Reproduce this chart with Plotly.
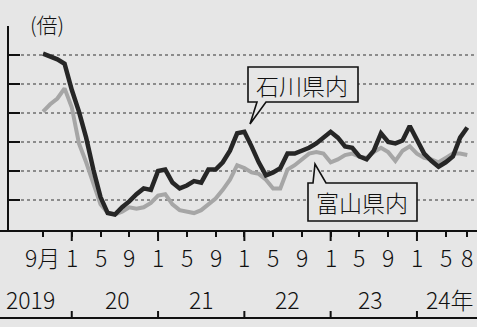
import plotly.graph_objects as go

# ---- data (month index 0 = Sep 2019 ... 59 = Aug 2024) ----
months = list(range(60))
ishikawa = [2.01, 1.99, 1.97, 1.94, 1.76, 1.61, 1.43, 1.21, 1.02, 0.91,
            0.90, 0.95, 0.99, 1.04, 1.08, 1.07, 1.20, 1.21, 1.12, 1.08,
            1.10, 1.13, 1.12, 1.21, 1.21, 1.26, 1.34, 1.46, 1.47, 1.37,
            1.26, 1.17, 1.19, 1.22, 1.32, 1.32, 1.34, 1.36, 1.39, 1.43,
            1.47, 1.43, 1.37, 1.36, 1.30, 1.28, 1.34, 1.46, 1.40, 1.39,
            1.41, 1.51, 1.41, 1.32, 1.27, 1.23, 1.26, 1.30, 1.43, 1.50]
toyama = [1.61, 1.66, 1.70, 1.77, 1.64, 1.39, 1.26, 1.12, 0.97, 0.91,
          0.90, 0.92, 0.95, 0.94, 0.95, 0.98, 1.03, 1.04, 0.97, 0.93,
          0.92, 0.91, 0.93, 0.97, 1.01, 1.07, 1.14, 1.24, 1.22, 1.19,
          1.18, 1.14, 1.08, 1.08, 1.21, 1.24, 1.28, 1.32, 1.33, 1.32,
          1.26, 1.28, 1.31, 1.32, 1.30, 1.29, 1.33, 1.36, 1.33, 1.27,
          1.34, 1.37, 1.32, 1.29, 1.28, 1.26, 1.29, 1.32, 1.32, 1.31]

month_tick_pos = [0, 4, 8, 12, 16, 20, 24, 28, 32, 36, 40, 44, 48, 52, 56, 59]
month_tick_text = ["9月", "1", "5", "9", "1", "5", "9", "1", "5", "9",
                   "1", "5", "9", "1", "5", "8"]
jan_pos = [4, 16, 28, 40, 52]
year_pos = [-1.7, 10.3, 22, 34, 45.6, 56.6]
year_text = ["2019", "20", "21", "22", "23", "24年"]
y_ticks = [1.0, 1.2, 1.4, 1.6, 1.8, 2.0, 2.2]
grid_vals = [1.0, 1.2, 1.4, 1.6, 1.8, 2.0]

# ---- layout geometry ----
W, H = 477, 327
L, R, T, B = 9, 0, 26, 96
PW, PH = W - L - R, H - T - B
BG = "#e6e6e6"
FONT = "Noto Sans CJK JP"


def px(x):
    return (x - L) / PW


def py(y):
    return (H - B - y) / PH


fig = go.Figure()
fig.add_trace(go.Scatter(x=months, y=toyama, mode="lines",
                         line=dict(color="#a6a6a6", width=4), name="富山県内"))
fig.add_trace(go.Scatter(x=months, y=ishikawa, mode="lines",
                         line=dict(color="#262626", width=4.5), name="石川県内"))

shapes = []
# dotted gridlines
for g in grid_vals:
    shapes.append(dict(type="line", xref="paper", yref="y", x0=0, x1=1, y0=g, y1=g,
                       line=dict(color="#333333", width=1, dash="dot"), layer="below"))
# x axis line and bottom line
for yy in (231, 318):
    shapes.append(dict(type="line", xref="paper", yref="paper", x0=px(0), x1=px(W),
                       y0=py(yy), y1=py(yy), line=dict(color="#111111", width=2)))
# taller January ticks + year separators
for j in jan_pos:
    shapes.append(dict(type="line", xref="x", yref="paper", x0=j, x1=j,
                       y0=py(231), y1=py(241), line=dict(color="#111111", width=2)))
    shapes.append(dict(type="line", xref="x", yref="paper", x0=j, x1=j,
                       y0=py(318), y1=py(311), line=dict(color="#111111", width=2)))


def poly(points):
    d = "M " + " L ".join(f"{px(a):.5f},{py(b):.5f}" for a, b in points) + " Z"
    return dict(type="path", xref="paper", yref="paper", path=d,
                fillcolor=BG, line=dict(color="#111111", width=1.6), layer="above")


# callout boxes
shapes.append(poly([(248, 67), (358, 67), (358, 102), (266, 102), (250, 124),
                    (257, 102), (248, 102)]))
shapes.append(poly([(308, 183), (313, 183), (315, 164), (326, 183), (417, 183),
                    (417, 221), (308, 221)]))

TXT = dict(family=FONT, size=23, color="#111111", weight=300)

annotations = []
for m, t in zip(month_tick_pos, month_tick_text):
    annotations.append(dict(x=m, y=py(257), xref="x", yref="paper", text=t,
                            showarrow=False, xanchor="center", yanchor="middle",
                            font=TXT))
for m, t in zip(year_pos, year_text):
    annotations.append(dict(x=m, y=py(299), xref="x", yref="paper", text=t,
                            showarrow=False, xanchor="center", yanchor="middle",
                            font=TXT))
annotations.append(dict(x=px(47), y=py(24), xref="paper", yref="paper", text="(倍)",
                        showarrow=False, xanchor="center", yanchor="middle",
                        font=dict(family=FONT, size=21, color="#111111", weight=300)))
annotations.append(dict(x=px(302), y=py(85), xref="paper", yref="paper", text="石川県内",
                        showarrow=False, xanchor="center", yanchor="middle",
                        font=TXT))
annotations.append(dict(x=px(362), y=py(202), xref="paper", yref="paper", text="富山県内",
                        showarrow=False, xanchor="center", yanchor="middle",
                        font=TXT))

fig.update_layout(
    width=W, height=H, autosize=False,
    margin=dict(l=L, r=R, t=T, b=B, pad=0),
    paper_bgcolor=BG, plot_bgcolor=BG,
    showlegend=False,
    shapes=shapes, annotations=annotations,
    xaxis=dict(range=[-4.727, 60.35], showgrid=False, zeroline=False,
               tickmode="array", tickvals=month_tick_pos, ticks="outside",
               ticklen=5, tickwidth=2, tickcolor="#111111", showticklabels=False,
               showline=False, fixedrange=True),
    yaxis=dict(range=[0.7862, 2.2], showgrid=False, zeroline=False,
               tickmode="array", tickvals=y_ticks, ticks="inside", ticklen=11,
               tickwidth=2, tickcolor="#111111", showticklabels=False,
               showline=True, linecolor="#111111", linewidth=2, fixedrange=True),
)

fig.write_html("out.html")
